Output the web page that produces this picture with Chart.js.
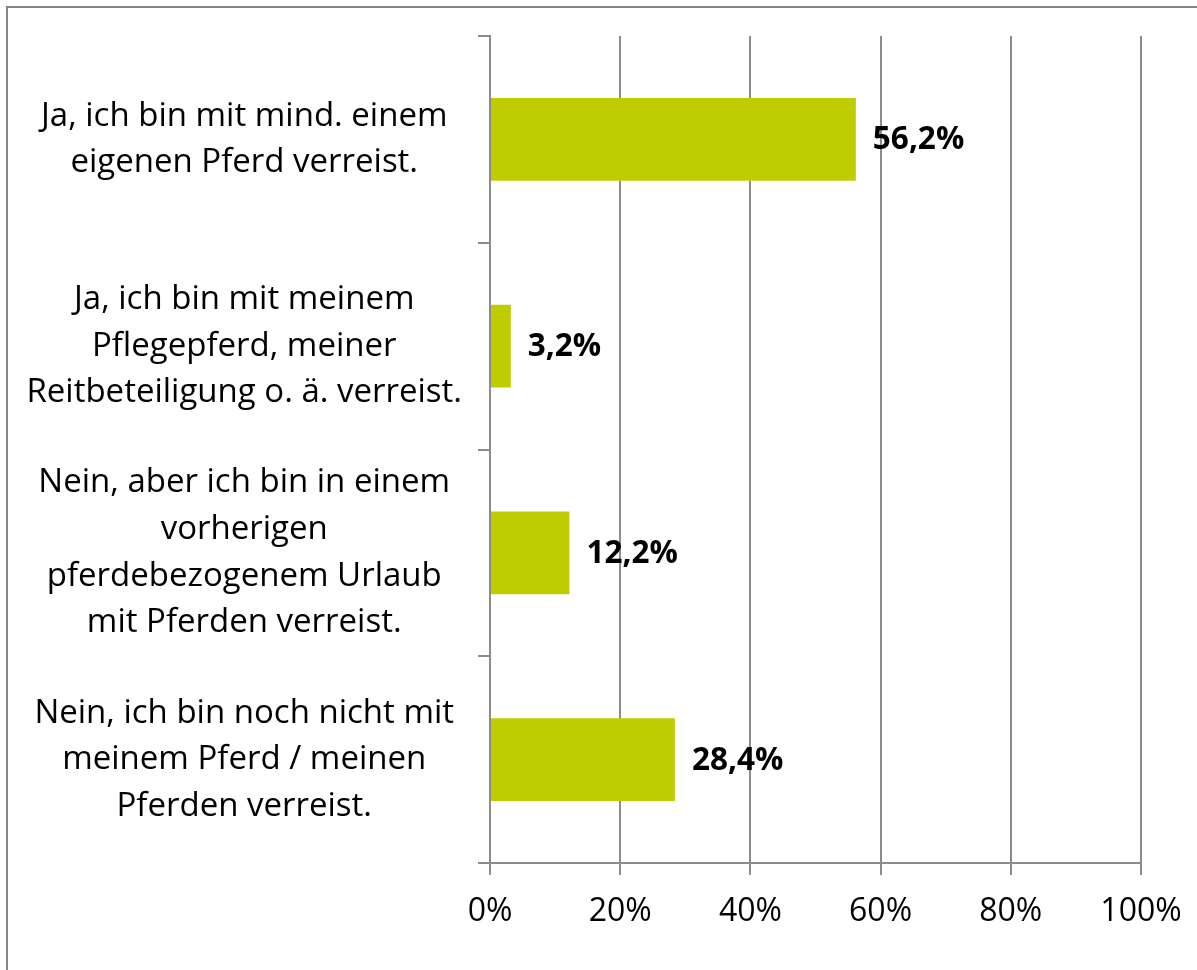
<!DOCTYPE html>
<html>
<head>
<meta charset="utf-8">
<script src="https://cdn.jsdelivr.net/npm/chart.js@4"></script>
<style>
  html, body { margin: 0; padding: 0; background: #fff; overflow: hidden; }
  #wrap { position: relative; width: 1197px; height: 970px; overflow: hidden; }
  #frame { position: absolute; left: 6px; top: 6px; width: 1300px; height: 1100px; border: 2px solid #868686; box-sizing: border-box; }
  canvas { position: absolute; left: 0; top: 0; }
</style>
</head>
<body>
<div id="wrap">
  <div id="frame"></div>
  <canvas id="c" width="1197" height="970"></canvas>
</div>
<script>
const categories = [
  ["Ja, ich bin mit mind. einem", "eigenen Pferd verreist."],
  ["Ja, ich bin mit meinem", "Pflegepferd, meiner", "Reitbeteiligung o. ä. verreist."],
  ["Nein, aber ich bin in einem", "vorherigen", "pferdebezogenem Urlaub", "mit Pferden verreist."],
  ["Nein, ich bin noch nicht mit", "meinem Pferd / meinen", "Pferden verreist."]
];
const values = [56.2, 3.2, 12.2, 28.4];
const valueLabels = ["56,2%", "3,2%", "12,2%", "28,4%"];
const xTicks = [0, 20, 40, 60, 80, 100];

const FONT = "'Open Sans', sans-serif";
const GRID = "#8c8c8c";

const valueLabelPlugin = {
  id: 'valueLabels',
  afterDatasetsDraw(chart) {
    const ctx = chart.ctx;
    const meta = chart.getDatasetMeta(0);
    ctx.save();
    ctx.font = "bold 31.5px " + FONT;
    ctx.fillStyle = "#000";
    ctx.textAlign = "left";
    ctx.textBaseline = "middle";
    meta.data.forEach((bar, i) => {
      ctx.fillText(valueLabels[i], bar.x + 17, bar.y + 1);
    });
    ctx.restore();
  }
};

new Chart(document.getElementById('c'), {
  type: 'bar',
  data: {
    labels: categories,
    datasets: [{
      data: values,
      backgroundColor: '#BFCC00',
      borderWidth: 0,
      barPercentage: 0.4,
      categoryPercentage: 1.0
    }]
  },
  options: {
    indexAxis: 'y',
    responsive: false,
    animation: false,
    devicePixelRatio: 1,
    layout: { padding: { left: 0, right: 56, top: 36, bottom: 0 } },
    plugins: { legend: { display: false }, tooltip: { enabled: false } },
    scales: {
      x: {
        min: 0,
        max: 100,
        afterBuildTicks(scale) { scale.ticks = xTicks.map(v => ({ value: v })); },
        afterFit(scale) { scale.height = 970 - 863; scale.paddingLeft = 0; scale.paddingRight = 0; },
        grid: { color: GRID, lineWidth: 2, tickLength: 12, drawOnChartArea: true },
        border: { color: GRID, width: 2 },
        ticks: {
          callback: v => v + '%',
          color: '#000',
          padding: 18,
          font: { family: FONT, size: 32 },
          maxRotation: 0
        }
      },
      y: {
        afterFit(scale) { scale.width = 490; scale.paddingTop = 0; scale.paddingBottom = 0; },
        grid: { color: GRID, lineWidth: 2, tickLength: 12, drawOnChartArea: false, offset: true },
        border: { color: GRID, width: 2 },
        ticks: {
          color: '#000',
          crossAlign: 'center',
          padding: 16,
          font: { family: FONT, size: 33, lineHeight: 1.41 }
        }
      }
    }
  },
  plugins: [valueLabelPlugin]
});
</script>
</body>
</html>
